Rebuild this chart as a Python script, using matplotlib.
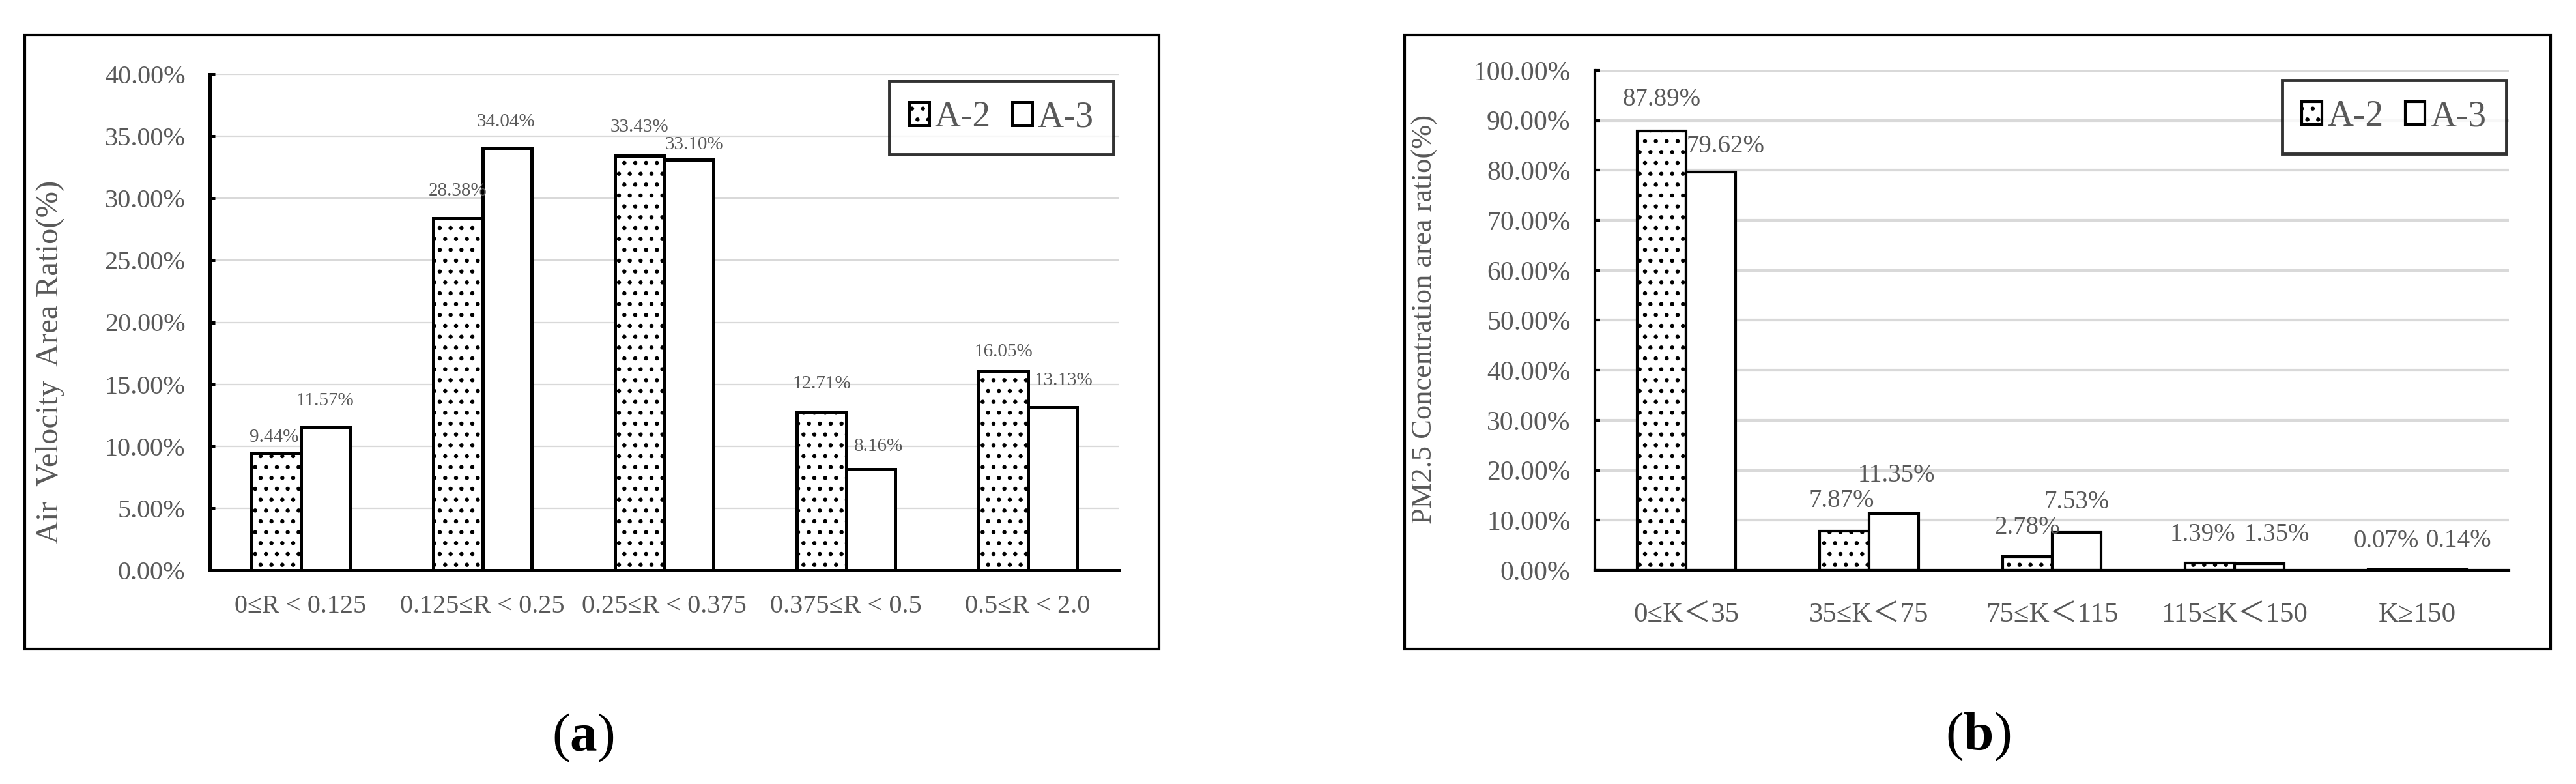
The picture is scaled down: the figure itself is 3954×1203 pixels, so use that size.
import matplotlib
matplotlib.use("Agg")
import matplotlib.pyplot as plt
import matplotlib.ticker as ticker
from matplotlib.patches import Rectangle, Patch
import numpy as np

plt.rcParams['font.family'] = ['Liberation Serif', 'DejaVu Serif', 'Noto Sans CJK SC']
plt.rcParams['mathtext.fontset'] = 'custom'
plt.rcParams['mathtext.rm'] = 'Liberation Serif'
plt.rcParams['mathtext.bf'] = 'Liberation Serif:bold'
plt.rcParams['hatch.linewidth'] = 2.2

# ---- data ----
a_cats = ['0≤R < 0.125', '0.125≤R < 0.25', '0.25≤R < 0.375', '0.375≤R < 0.5', '0.5≤R < 2.0']
a_a2 = [9.44, 28.38, 33.43, 12.71, 16.05]
a_a3 = [11.57, 34.04, 33.10, 8.16, 13.13]

b_cats = ['0≤K＜35', '35≤K＜75', '75≤K＜115', '115≤K＜150', 'K≥150']
b_a2 = [87.89, 7.87, 2.78, 1.39, 0.07]
b_a3 = [79.62, 11.35, 7.53, 1.35, 0.14]

series_names = ['A-2', 'A-3']

# label nudges in pixels (dx, dy above bar top)
a_dx2 = [-3, 0, 0, 0, 0]
a_dy2 = [24, 42, 44, 44, 30]
a_dx3 = [0, -2, 8, 12, 17]
a_dy3 = [40, 40, 23, 35, 41]
b_dx2 = [0, -4, 0, -11, -10]
b_dy2 = [48, 46, 44, 44, 44]
b_dx3 = [22, 4, 0, 27, 25]
b_dy3 = [40, 58, 47, 44, 44]

W, H = 3954, 1203
DPI = 100
fig = plt.figure(figsize=(W / DPI, H / DPI), dpi=DPI)
GRAY = '#595959'
PX = 72.0 / DPI


def box(x0, y0, x1, y1):
    return [x0 / W, 1 - y1 / H, (x1 - x0) / W, (y1 - y0) / H]


def panel(rect, cats, s2, s3, ymax, ystep, dx2, dy2, dx3, dy3, lab_size,
          tick_size, xtick_size, spine_w, grid_w, ylabel, ylab_size, ylab_xy,
          xpad, leg_anchor):
    ax = fig.add_axes(rect)
    x = np.arange(len(cats))
    bw = 0.27
    v2 = np.array(s2) / 100
    v3 = np.array(s3) / 100
    ax.bar(x - bw / 2, v2, bw, facecolor='white', edgecolor='black',
           hatch='.', linewidth=spine_w, zorder=3)
    ax.bar(x + bw / 2, v3, bw, facecolor='white', edgecolor='black',
           linewidth=spine_w, zorder=3)
    for i in range(len(cats)):
        ax.annotate(f'{s2[i]:.2f}%', (x[i] - bw / 2, v2[i]),
                    xytext=(dx2[i] * PX, dy2[i] * PX), textcoords='offset points',
                    ha='center', va='center', fontsize=lab_size, color=GRAY)
        ax.annotate(f'{s3[i]:.2f}%', (x[i] + bw / 2, v3[i]),
                    xytext=(dx3[i] * PX, dy3[i] * PX), textcoords='offset points',
                    ha='center', va='center', fontsize=lab_size, color=GRAY)
    ax.set_xlim(-0.5, len(cats) - 0.5)
    ax.set_ylim(0, ymax)
    ax.yaxis.set_major_locator(ticker.MultipleLocator(ystep))
    ax.yaxis.set_major_formatter(ticker.FuncFormatter(lambda v, p: f'{v * 100:.2f}%'))
    ax.set_xticks(x)
    ax.set_xticklabels(cats)
    ax.tick_params(axis='y', direction='in', length=6, width=spine_w,
                   labelsize=tick_size, labelcolor=GRAY, pad=27)
    ax.tick_params(axis='x', length=0, labelsize=xtick_size, labelcolor=GRAY, pad=xpad)
    for s in ['top', 'right']:
        ax.spines[s].set_visible(False)
    for s in ['left', 'bottom']:
        ax.spines[s].set_linewidth(spine_w)
        ax.spines[s].set_zorder(4)
    ax.grid(axis='y', color='#d9d9d9', linewidth=grid_w)
    ax.set_axisbelow(True)
    ax.set_ylabel(ylabel, fontsize=ylab_size, color=GRAY)
    ax.yaxis.set_label_coords(*ylab_xy)
    handles = [Patch(facecolor='white', edgecolor='black', hatch='.', linewidth=spine_w),
               Patch(facecolor='white', edgecolor='black', linewidth=spine_w)]
    leg = fig.legend(handles, series_names, loc='upper right', bbox_to_anchor=leg_anchor,
                     ncol=2, fontsize=40, frameon=True, fancybox=False,
                     handlelength=0.55, handleheight=0.6, handletextpad=0.15,
                     columnspacing=0.6, borderpad=0.55, labelcolor=GRAY)
    leg.get_frame().set_edgecolor('black')
    leg.get_frame().set_linewidth(3.5)
    return ax


panel(box(322, 114, 1717, 875), a_cats, a_a2, a_a3, 0.40, 0.05,
      a_dx2, a_dy2, a_dx3, a_dy3, 21, 29, 29, 3.6, 1.6,
      'Air  Velocity  Area Ratio(%)', 35, (-0.160, 0.42), 27,
      (1737 / W, 1 - 96 / H))

panel(box(2448, 108, 3851, 875), b_cats, b_a2, b_a3, 1.0, 0.10,
      b_dx2, b_dy2, b_dx3, b_dy3, 28, 30, 31, 3.0, 3.0,
      'PM2.5 Concentration area ratio(%)', 32, (-0.172, 0.502), 36,
      (3875 / W, 1 - 95 / H))

# outer frames around each panel
for x0, x1 in [(38, 1779), (2156, 3915)]:
    fig.add_artist(Rectangle((x0 / W, 1 - 996 / H), (x1 - x0) / W, (996 - 54) / H,
                             transform=fig.transFigure, fill=False,
                             edgecolor='black', linewidth=3.0))

fig.text(895 / W, 1 - 1132 / H, r'($\mathbf{a}$)', fontsize=60,
         ha='center', va='center')
fig.text(3036 / W, 1 - 1130 / H, r'($\mathbf{b}$)', fontsize=60,
         ha='center', va='center')

fig.savefig('out.png', dpi=DPI, facecolor='white')
